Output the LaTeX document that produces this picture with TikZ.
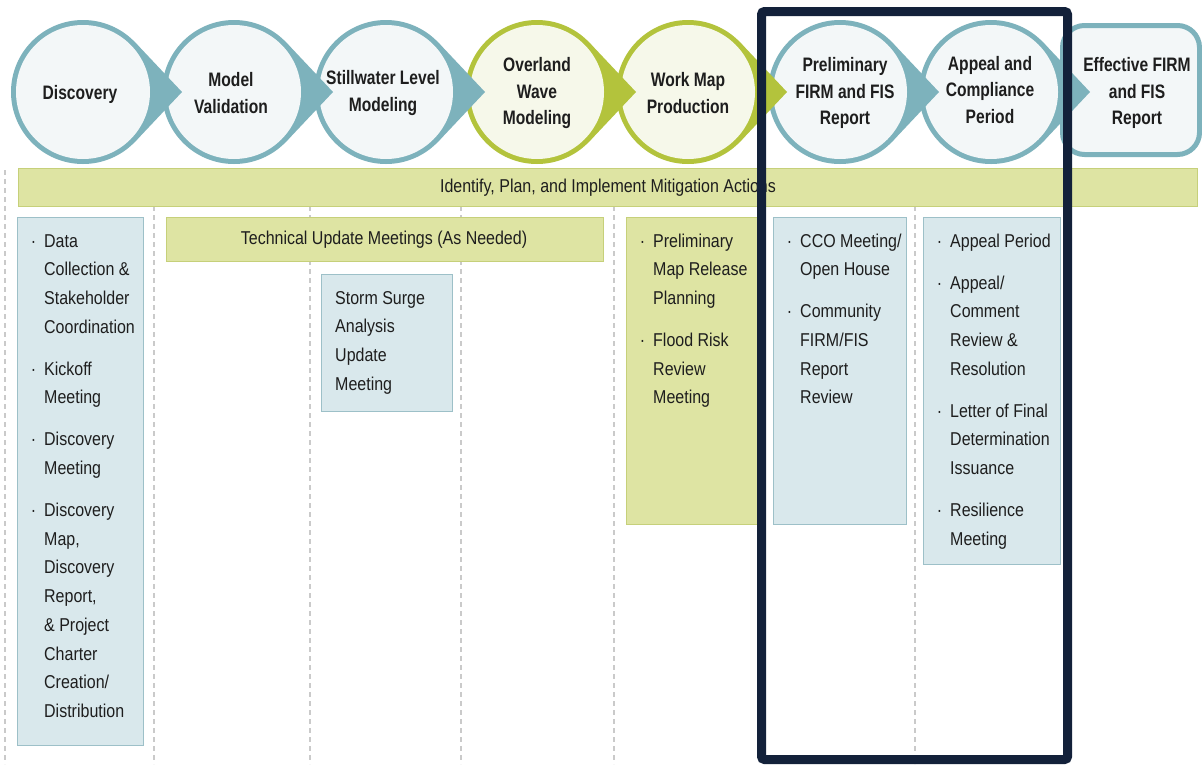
\documentclass[tikz,border=0pt]{standalone}
\usepackage{fontspec}
\setmainfont{Liberation Sans}[FakeStretch=0.86]
\newfontfamily\circfont{Liberation Sans}[FakeStretch=0.8]
\definecolor{ringT}{HTML}{7DB2BC}
\definecolor{ringG}{HTML}{B3C33C}
\definecolor{inT}{HTML}{F3F7F8}
\definecolor{inG}{HTML}{F6F8EA}
\definecolor{gfill}{HTML}{DEE4A3}
\definecolor{gbord}{HTML}{C6D07A}
\definecolor{bfill}{HTML}{D9E8EC}
\definecolor{bbord}{HTML}{9DC0C8}
\definecolor{dashc}{HTML}{CACACA}
\definecolor{navy}{HTML}{13213A}
\definecolor{txt}{HTML}{1E1E1E}
\tikzset{
  ctext/.style={font=\circfont\bfseries\fontsize{19.5}{26.8}\selectfont, align=center, text=txt, inner sep=0},
  btext/.style={font=\fontsize{18.6}{28.7}\selectfont, anchor=base west, inner sep=0, text=txt},
  bluebox/.style={draw=bbord, fill=bfill, line width=1.2pt, anchor=north west, inner sep=0},
  greenbox/.style={draw=gbord, fill=gfill, line width=1.2pt, anchor=north west, inner sep=0},
  guide/.style={draw=dashc, line width=1.1pt, dash pattern=on 5pt off 4pt},
  frameline/.style={draw=navy, line width=9pt, rounded corners=3pt},
}
\newcommand{\bul}{\llap{·\hspace{8pt}}}
% stage: #1 cx, #2 ring colour, #3 inner colour
\newcommand{\stage}[3]{%
  \fill[#2] (#1,92) circle (72);
  \fill[#2] ({#1+52.4},42.6) -- ({#1+99},92) -- ({#1+52.4},141.4) -- cycle;
  \fill[#3] (#1,92) circle (67);
}
\begin{document}
\begin{tikzpicture}[x=1pt,y=-1pt]
\useasboundingbox (0,0) rectangle (1202,764);
\fill[white] (0,0) rectangle (1202,764);

% guide lines
\foreach \gx/\gn in {5/g1,154/g2,310/g3,461/g4,614/g5,915/g6}{
  \coordinate (\gn a) at (\gx,170);
  \coordinate (\gn b) at (\gx,764);
  \draw[guide] (\gn a) -- (\gn b);
}

% top stages, drawn right to left
\node[draw=ringT, fill=inT, line width=5pt, rounded corners=22pt, minimum width=137, minimum height=129, inner sep=0] (s8) at (1131,90) {};
\stage{991}{ringT}{inT}
\stage{840}{ringT}{inT}
\stage{688}{ringG}{inG}
\stage{537}{ringG}{inG}
\stage{386}{ringT}{inT}
\stage{234}{ringT}{inT}
\stage{83}{ringT}{inT}

\node[ctext] (t1) at (80,94) {Discovery};
\node[ctext] (t2) at (231,93) {Model\\Validation};
\node[ctext] (t3) at (383,93) {Stillwater Level\\Modeling};
\node[ctext] (t4) at (537,93) {Overland\\Wave\\Modeling};
\node[ctext] (t5) at (688,93) {Work Map\\Production};
\node[ctext] (t6) at (845,93) {Preliminary\\FIRM and FIS\\Report};
\node[ctext] (t7) at (990,90) {Appeal and\\Compliance\\Period};
\node[ctext] (t8) at (1137,93) {Effective FIRM\\and FIS\\Report};

% bars
\node[greenbox, minimum width=1179, minimum height=38] (bar1) at (18,168) {};
\node[font=\fontsize{18.6}{22}\selectfont, text=txt] (bar1t) at (608,188) {Identify, Plan, and Implement Mitigation Actions};
\node[greenbox, minimum width=437, minimum height=44] (bar2) at (166,217) {};
\node[font=\fontsize{18.6}{22}\selectfont, text=txt] (bar2t) at (384,240) {Technical Update Meetings (As Needed)};

% boxes
\node[bluebox, minimum width=126, minimum height=528] (b1) at (17,217) {};
\node[bluebox, minimum width=131, minimum height=137] (b2) at (321,274) {};
\node[greenbox, minimum width=136, minimum height=307] (b3) at (626,217) {};
\node[bluebox, minimum width=133, minimum height=307] (b4) at (773,217) {};
\node[bluebox, minimum width=137, minimum height=347] (b5) at (923,217) {};

\node[btext] (b1t) at (44,247) {\begin{tabular}[t]{@{}l@{}}%
\bul Data\\ Collection \&\\ Stakeholder\\ Coordination\\[13.3pt]
\bul Kickoff\\ Meeting\\[13.3pt]
\bul Discovery\\ Meeting\\[13.3pt]
\bul Discovery\\ Map,\\ Discovery\\ Report,\\ \& Project\\ Charter\\ Creation/\\ Distribution\end{tabular}};
\node[btext] (b2t) at (335,304) {\begin{tabular}[t]{@{}l@{}}%
Storm Surge\\ Analysis\\ Update\\ Meeting\end{tabular}};
\node[btext] (b3t) at (653,247) {\begin{tabular}[t]{@{}l@{}}%
\bul Preliminary\\ Map Release\\ Planning\\[13.3pt]
\bul Flood Risk\\ Review\\ Meeting\end{tabular}};
\node[btext] (b4t) at (800,247) {\begin{tabular}[t]{@{}l@{}}%
\bul CCO Meeting/\\ Open House\\[13.3pt]
\bul Community\\ FIRM/FIS\\ Report\\ Review\end{tabular}};
\node[btext] (b5t) at (950,247) {\begin{tabular}[t]{@{}l@{}}%
\bul Appeal Period\\[13.3pt]
\bul Appeal/\\ Comment\\ Review \&\\ Resolution\\[13.3pt]
\bul Letter of Final\\ Determination\\ Issuance\\[13.3pt]
\bul Resilience\\ Meeting\end{tabular}};

% highlight frame
\coordinate (fa) at (761.5,11.5);
\coordinate (fb) at (1067.5,759.5);
\draw[frameline] (fa) rectangle (fb);
\end{tikzpicture}
\end{document}
